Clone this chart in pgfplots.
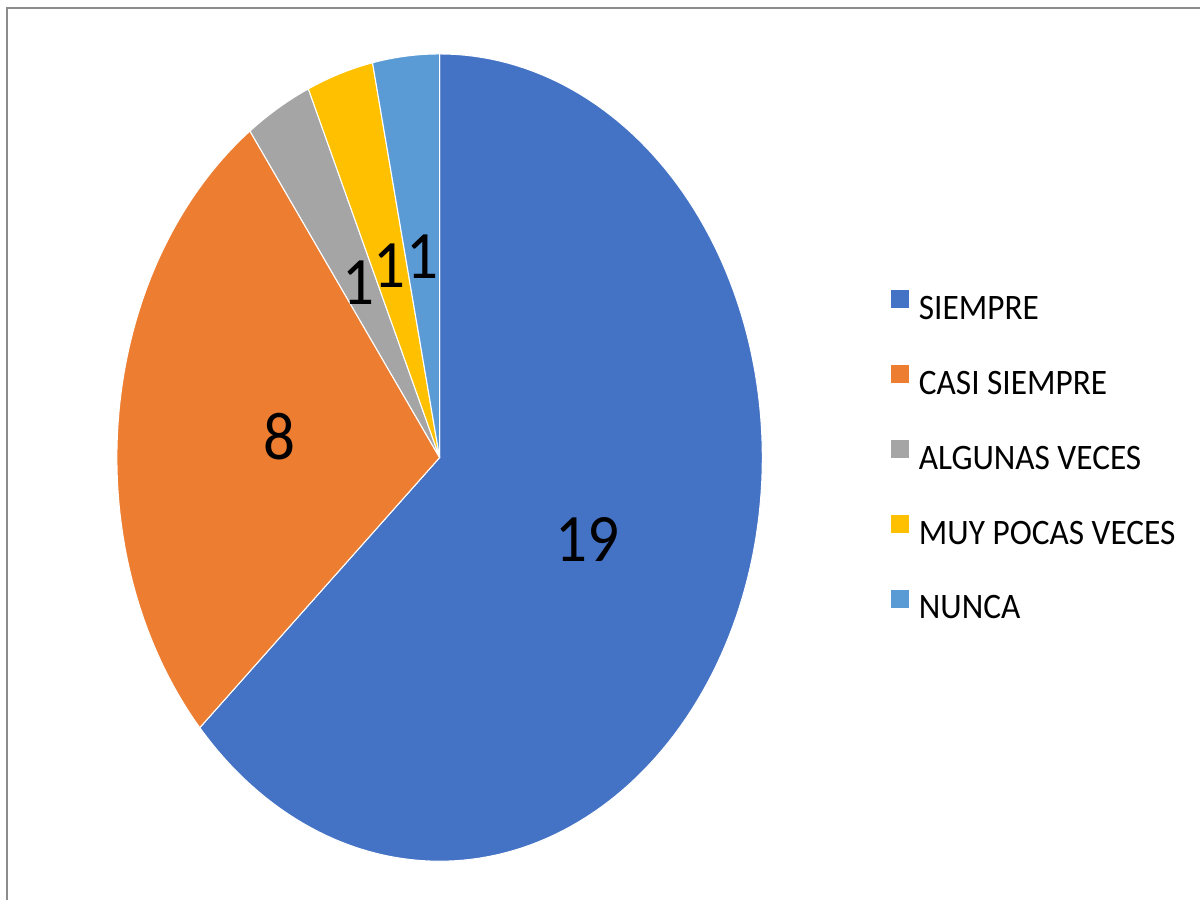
\documentclass[border=0pt]{standalone}
\usepackage{pgfplots}
\usepackage{pgfplotstable}
\pgfplotsset{compat=1.18}
\usepackage{fontspec}
\setmainfont{Carlito}[FakeStretch=0.93]
\definecolor{cSiempre}{HTML}{4472C4}
\definecolor{cCasi}{HTML}{ED7D31}
\definecolor{cAlg}{HTML}{A5A5A5}
\definecolor{cMuy}{HTML}{FFC000}
\definecolor{cNunca}{HTML}{5B9BD5}
\definecolor{frame}{RGB}{140,140,140}
\newcommand\lblfont{\fontsize{19.3}{22}\selectfont}
\newcommand\legfont{\fontsize{10.2}{12}\selectfont}

\pgfplotstableread[col sep=comma]{
label,value,color
SIEMPRE,19,cSiempre
CASI SIEMPRE,8,cCasi
ALGUNAS VECES,1,cAlg
MUY POCAS VECES,1,cMuy
NUNCA,1,cNunca
}\piedata

\begin{document}
\begin{tikzpicture}
\begin{axis}[
  width=12.01cm, height=9.01cm, scale only axis,
  xmin=0, xmax=1201, ymin=0, ymax=901,
  hide axis, clip=false,
  legend cell align=left,
  legend style={at={(axis cs:891,440.5)}, anchor=west, draw=none, fill=none,
    inner sep=0pt, row sep=0pt, font=\legfont,
    nodes={inner sep=0pt, minimum height=0.75cm}},
  legend image code/.code={\path[#1, draw=none] (0cm,0.024cm) rectangle (0.18cm,0.204cm);
    \path (0cm,0.1cm) (0.27cm,0.1cm);},
]
\path (axis cs:0,0) rectangle (axis cs:1201,901);
\draw[frame, line width=0.6pt] (axis cs:7,0) -- (axis cs:7,893) -- (axis cs:1201,893);
\def\total{0}
\pgfplotsforeachungrouped \i in {0,...,4}{%
  \pgfplotstablegetelem{\i}{value}\of\piedata
  \pgfmathsetmacro\total{\total+\pgfplotsretval}%
}
\def\start{90}
\pgfplotsforeachungrouped \i in {0,...,4}{%
  \pgfplotstablegetelem{\i}{value}\of\piedata \let\v\pgfplotsretval
  \pgfplotstablegetelem{\i}{color}\of\piedata \let\c\pgfplotsretval
  \pgfplotstablegetelem{\i}{label}\of\piedata \let\l\pgfplotsretval
  \pgfmathsetmacro\stop{\start-360*\v/\total}%
  \pgfmathsetmacro\mid{(\start+\stop)/2}%
  \pgfmathsetmacro\lx{440+0.5*323*cos(\mid)}%
  \pgfmathsetmacro\ly{443+0.5*404*sin(\mid)}%
  \edef\temp{%
    \noexpand\addplot[fill=\c, draw=white, line width=0.3pt, domain=\stop:\start, samples=150, variable=\noexpand\t]
      ({440+323*cos(\noexpand\t)},{443+404*sin(\noexpand\t)}) -- (axis cs:440,443) -- cycle;
    \noexpand\addlegendentry{\l}
    \noexpand\node[font=\noexpand\lblfont, inner sep=0pt] at (axis cs:\lx,\ly) {\v};
  }\temp
  \let\start\stop
}
\end{axis}
\end{tikzpicture}
\end{document}
